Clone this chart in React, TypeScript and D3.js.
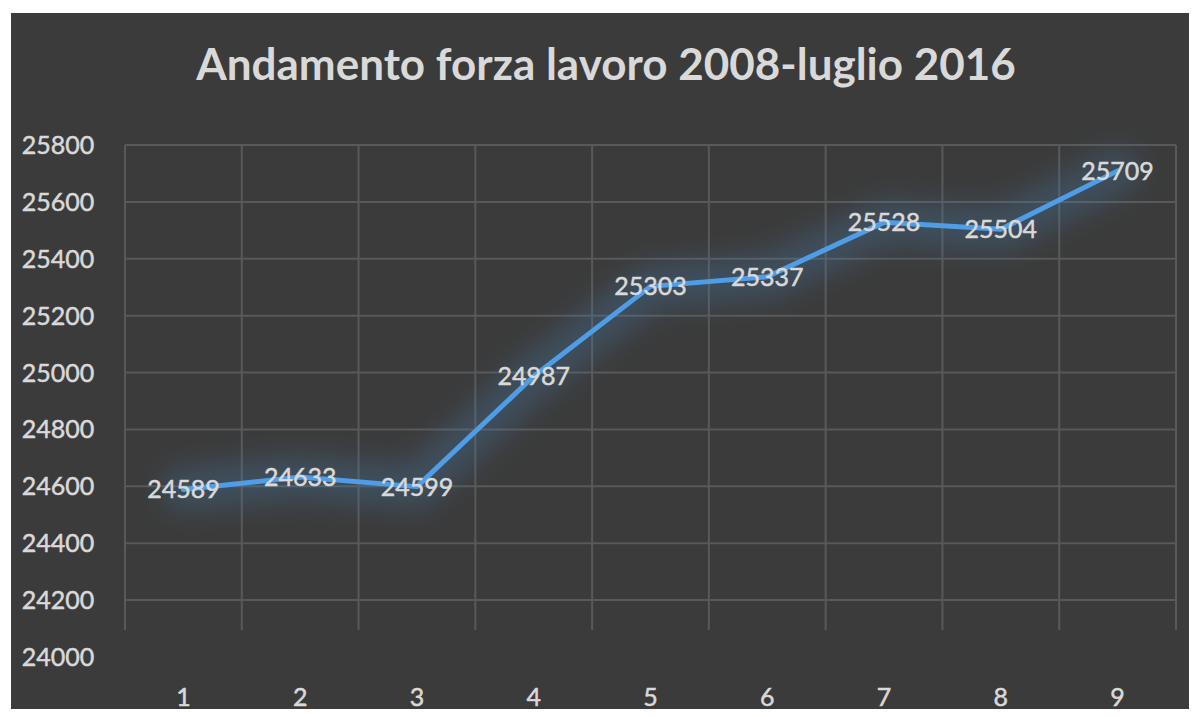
import { useEffect, useRef } from 'react';
import * as d3 from 'd3';

const categories = ['1', '2', '3', '4', '5', '6', '7', '8', '9'];
const values = [24589, 24633, 24599, 24987, 25303, 25337, 25528, 25504, 25709];
const yTicks = [24000, 24200, 24400, 24600, 24800, 25000, 25200, 25400, 25600, 25800];
const title = 'Andamento forza lavoro 2008-luglio 2016';

export default function App() {
  const ref = useRef<SVGSVGElement>(null);

  useEffect(() => {
    const width = 1197;
    const height = 717;
    const svg = d3.select(ref.current);
    svg.selectAll('*').remove();
    svg.attr('viewBox', `0 0 ${width} ${height}`);

    const font = 'Lato, "Open Sans", sans-serif';
    const textColor = '#d9d9d9';

    svg.append('rect').attr('width', width).attr('height', height).attr('fill', '#ffffff');
    svg.append('rect').attr('x', 11).attr('y', 13).attr('width', width - 11).attr('height', height - 13).attr('fill', '#3b3b3b');

    const defs = svg.append('defs');
    const glow = defs.append('filter').attr('id', 'glow').attr('x', '-20%').attr('y', '-50%').attr('width', '140%').attr('height', '200%');
    glow.append('feGaussianBlur').attr('stdDeviation', 14);

    const left = 125;
    const right = 1176;
    const x = d3.scaleBand().domain(categories).range([left, right]);
    const y = d3.scaleLinear().domain([24000, 25800]).range([657, 145]);

    svg
      .append('text')
      .attr('x', 606)
      .attr('y', 80)
      .attr('text-anchor', 'middle')
      .attr('font-family', font)
      .attr('font-weight', 700)
      .attr('font-size', 44)
      .attr('fill', textColor)
      .text(title);

    const grid = svg.append('g').attr('stroke', '#595959').attr('stroke-width', 2);
    grid
      .selectAll('line.h')
      .data(yTicks.filter((t) => t > 24000))
      .join('line')
      .attr('class', 'h')
      .attr('x1', left)
      .attr('x2', right)
      .attr('y1', (d) => y(d))
      .attr('y2', (d) => y(d));
    const bounds = categories.map((c) => x(c) ?? 0).concat([right]);
    grid
      .selectAll('line.v')
      .data(bounds)
      .join('line')
      .attr('class', 'v')
      .attr('x1', (d) => d)
      .attr('x2', (d) => d)
      .attr('y1', y(25800))
      .attr('y2', 630);

    const labelStyle = (sel: any) =>
      sel
        .attr('font-family', font)
        .attr('font-size', 25)
        .attr('fill', textColor)
        .attr('stroke', textColor)
        .attr('stroke-width', 0.5);

    svg
      .append('g')
      .selectAll('text')
      .data(yTicks)
      .join('text')
      .attr('x', 58)
      .attr('y', (d) => y(d) + 9)
      .attr('text-anchor', 'middle')
      .call(labelStyle)
      .text((d) => d);

    svg
      .append('g')
      .selectAll('text')
      .data(categories)
      .join('text')
      .attr('x', (d) => (x(d) ?? 0) + x.bandwidth() / 2)
      .attr('y', 706)
      .attr('text-anchor', 'middle')
      .call(labelStyle)
      .text((d) => d);

    const points = values.map((v, i) => [(x(categories[i]) ?? 0) + x.bandwidth() / 2, y(v)] as [number, number]);
    const line = d3.line();

    svg
      .append('path')
      .attr('d', line(points))
      .attr('fill', 'none')
      .attr('stroke', '#4a7fb0')
      .attr('stroke-width', 44)
      .attr('stroke-linejoin', 'round')
      .attr('stroke-linecap', 'round')
      .attr('opacity', 0.3)
      .attr('filter', 'url(#glow)');

    svg
      .append('path')
      .attr('d', line(points))
      .attr('fill', 'none')
      .attr('stroke', '#4e9de6')
      .attr('stroke-width', 5)
      .attr('stroke-linejoin', 'round')
      .attr('stroke-linecap', 'round');

    svg
      .append('g')
      .selectAll('text')
      .data(values)
      .join('text')
      .attr('x', (_, i) => points[i][0])
      .attr('y', (_, i) => points[i][1] + 9)
      .attr('text-anchor', 'middle')
      .call(labelStyle)
      .text((d) => d);
  }, []);

  return (
    <div style={{ margin: -8 }}>
      <svg ref={ref} width={1197} height={717} style={{ display: 'block' }} />
    </div>
  );
}
